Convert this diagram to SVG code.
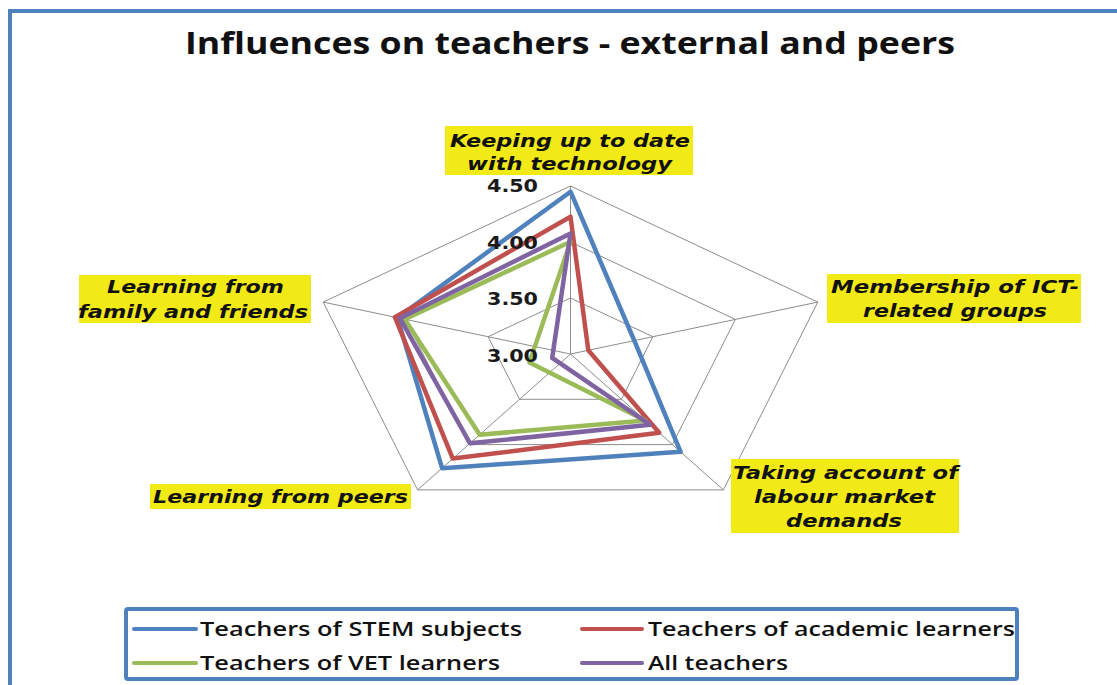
<svg xmlns="http://www.w3.org/2000/svg" width="1117" height="685" viewBox="0 0 1117 685">
<style>
.frame{fill:none;stroke:#4F81BD;stroke-width:4}
.grid{fill:none;stroke:#8C8C8C;stroke-width:1}
.series{fill:none;stroke-width:4.5;stroke-linejoin:round}
.cat{font-family:"DejaVu Sans",Verdana,sans-serif;font-weight:bold;font-style:italic;font-size:18px;fill:#111;text-anchor:middle}
.box{fill:#F2EA17}
.tick{font-family:"DejaVu Sans",Verdana,sans-serif;font-weight:bold;font-size:17px;fill:#1a1a1a;text-anchor:end}
.leg{font-family:"Open Sans","Liberation Sans",sans-serif;font-weight:600;font-size:20px;fill:#111}
.legline{stroke-width:4;stroke-linecap:round}
</style>
<rect width="1117" height="685" fill="#ffffff"/>
<g id="frame">
<line class="frame" x1="8" y1="11" x2="1117" y2="11"/>
<line class="frame" x1="10" y1="9" x2="10" y2="685"/>
</g>
<text id="title" x="185" y="54" textLength="770" lengthAdjust="spacingAndGlyphs" font-family="'Open Sans','Liberation Sans',sans-serif" font-weight="bold" font-size="30" fill="#111">Influences on teachers - external and peers</text>
<g id="grid">
<polygon class="grid" points="570.5,186 817.8,302.1 723.4,489.9 417.6,489.9 323.2,302.1"/>
<polygon class="grid" points="570.5,242 735.4,319.4 672.4,444.6 468.6,444.6 405.6,319.4"/>
<polygon class="grid" points="570.5,298 652.9,336.7 621.5,399.3 519.5,399.3 488.1,336.7"/>
<path class="grid" d="M570.5,354 L570.5,186 M570.5,354 L817.8,302.1 M570.5,354 L723.4,489.9 M570.5,354 L417.6,489.9 M570.5,354 L323.2,302.1"/>
</g>
<g id="connectors">
<polygon id="s-stem" class="series" stroke="#4F81BD" points="570.5,191.7 634.3,340.6 680.6,451.8 442.1,468.2 397.4,317.7"/>
<polygon id="s-academic" class="series" stroke="#C0504D" points="570.5,216.7 588.3,350.3 659.2,432.8 452.8,458.6 394.9,317.2"/>
<polygon id="s-vet" class="series" stroke="#9BBB59" points="570.5,241.8 529.4,362.6 645.4,420.6 479.7,434.7 404.8,319.2"/>
<polygon id="s-all" class="series" stroke="#8064A2" points="570.5,233.4 552.2,357.8 650.0,424.7 470.0,443.3 399.9,318.2"/>
</g>
<g id="axis-labels">
<text class="tick" x="538" y="192" textLength="51" lengthAdjust="spacingAndGlyphs">4.50</text>
<text class="tick" x="538" y="248.5" textLength="51" lengthAdjust="spacingAndGlyphs">4.00</text>
<text class="tick" x="538" y="304.5" textLength="51" lengthAdjust="spacingAndGlyphs">3.50</text>
<text class="tick" x="538" y="362" textLength="51" lengthAdjust="spacingAndGlyphs">3.00</text>
</g>
<g id="cat-keeping">
<rect class="box" x="445" y="126" width="248" height="49"/>
<text class="cat" x="570" y="146.5" textLength="240" lengthAdjust="spacingAndGlyphs">Keeping up to date</text>
<text class="cat" x="569.5" y="169.5" textLength="205" lengthAdjust="spacingAndGlyphs">with technology</text>
</g>
<g id="cat-membership">
<rect class="box" x="827" y="274" width="254" height="49"/>
<text class="cat" x="955" y="293.3" textLength="248" lengthAdjust="spacingAndGlyphs">Membership of ICT-</text>
<text class="cat" x="955" y="316.7" textLength="184" lengthAdjust="spacingAndGlyphs">related groups</text>
</g>
<g id="cat-labour">
<rect class="box" x="731" y="459" width="228" height="74"/>
<text class="cat" x="845.5" y="479.3" textLength="225" lengthAdjust="spacingAndGlyphs">Taking account of</text>
<text class="cat" x="844.5" y="503.3" textLength="181" lengthAdjust="spacingAndGlyphs">labour market</text>
<text class="cat" x="844" y="527.3" textLength="116" lengthAdjust="spacingAndGlyphs">demands</text>
</g>
<g id="cat-peers">
<rect class="box" x="150" y="484" width="261" height="25"/>
<text class="cat" x="280.5" y="503.3" textLength="255" lengthAdjust="spacingAndGlyphs">Learning from peers</text>
</g>
<g id="cat-family">
<rect class="box" x="79" y="275" width="232" height="48"/>
<text class="cat" x="195.5" y="293.3" textLength="177" lengthAdjust="spacingAndGlyphs">Learning from</text>
<text class="cat" x="193" y="318.3" textLength="230" lengthAdjust="spacingAndGlyphs">family and friends</text>
</g>
<g id="legend">
<rect x="126" y="609" width="891" height="70" fill="#ffffff" stroke="#4F81BD" stroke-width="4" rx="2"/>
<line class="legline" x1="134" y1="629" x2="196" y2="629" stroke="#4F81BD"/>
<text class="leg" x="200" y="636" textLength="322" lengthAdjust="spacingAndGlyphs">Teachers of STEM subjects</text>
<line class="legline" x1="582" y1="629" x2="642" y2="629" stroke="#C0504D"/>
<text class="leg" x="648" y="636" textLength="367" lengthAdjust="spacingAndGlyphs">Teachers of academic learners</text>
<line class="legline" x1="134" y1="663" x2="196" y2="663" stroke="#9BBB59"/>
<text class="leg" x="200" y="670" textLength="300" lengthAdjust="spacingAndGlyphs">Teachers of VET learners</text>
<line class="legline" x1="582" y1="663" x2="642" y2="663" stroke="#8064A2"/>
<text class="leg" x="648" y="670" textLength="140" lengthAdjust="spacingAndGlyphs">All teachers</text>
</g>
</svg>
